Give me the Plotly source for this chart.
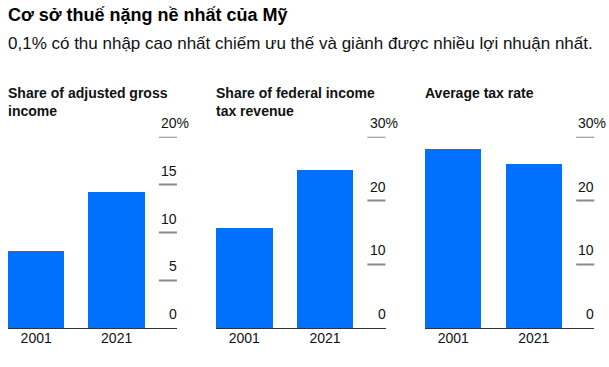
import plotly.graph_objects as go

years = ["2001", "2021"]
agi_share = [8.1, 14.3]
tax_share = [15.7, 24.8]
avg_rate = [28.2, 25.8]

panel_titles = ["Share of adjusted gross<br>income", "Share of federal income<br>tax revenue", "Average tax rate"]
panel_values = [agi_share, tax_share, avg_rate]
panel_ticks = [[0, 5, 10, 15, 20], [0, 10, 20, 30], [0, 10, 20, 30]]
panel_max = [20, 30, 30]

W, H = 609, 367
BLUE = "#0070ff"
FONT = "Liberation Sans, Arial, sans-serif"

x_px = [(8, 177), (216, 385.5), (425, 594.3)]
y_bottom = (H - 328.3) / H
y_top = (H - 136.7) / H

fig = go.Figure()
annotations = []
shapes = []
for i in range(3):
    ax = "" if i == 0 else str(i + 1)
    fig.add_trace(go.Bar(
        x=years, y=panel_values[i], marker=dict(color=BLUE, line=dict(width=0)),
        width=0.7, xaxis="x" + ax, yaxis="y" + ax, showlegend=False, hoverinfo="x+y",
    ))
    dom = [x_px[i][0] / W, x_px[i][1] / W]
    fig.update_layout(**{
        "xaxis" + ax: dict(domain=dom, range=[-0.35, 1.75], type="category",
                           showline=True, linecolor="#333", linewidth=1,
                           showgrid=False, zeroline=False, ticks="", ticklen=0,
                           ticklabelstandoff=-3,
                           tickfont=dict(family=FONT, size=14, color="#111"),
                           anchor="y" + ax, fixedrange=True),
        "yaxis" + ax: dict(domain=[y_bottom, y_top], range=[0, panel_max[i]],
                           showgrid=False, zeroline=False, showticklabels=False,
                           showline=False, anchor="x" + ax, fixedrange=True),
    })
    xref_d = "x" + ax + " domain"
    for t in panel_ticks[i]:
        if t > 0:
            shapes.append(dict(type="line", xref=xref_d, yref="y" + ax,
                               x0=0.893, x1=1.0, y0=t, y1=t,
                               line=dict(color="#8a8a8a", width=2)))
        is_top = t == panel_max[i]
        annotations.append(dict(xref=xref_d, yref="y" + ax, x=1.0, y=t,
                                text=str(t) + ("%" if is_top else ""), showarrow=False,
                                xanchor="right", yanchor="bottom", yshift=4,
                                xshift=(12 if is_top else 0) + 2,
                                font=dict(family=FONT, size=14, color="#111")))
    annotations.append(dict(xref="paper", yref="paper", x=x_px[i][0] / W - 2 / W, y=(H - 83) / H,
                            text="<b>" + panel_titles[i] + "</b>", showarrow=False,
                            xanchor="left", yanchor="top", align="left",
                            font=dict(family=FONT, size=14, color="#111")))

annotations.append(dict(xref="paper", yref="paper", x=6 / W, y=(H - 3) / H,
                        text="<b>Cơ sở thuế nặng nề nhất của Mỹ</b>", showarrow=False,
                        xanchor="left", yanchor="top",
                        font=dict(family=FONT, size=18, color="#000")))
annotations.append(dict(xref="paper", yref="paper", x=6 / W, y=(H - 32) / H,
                        text="0,1% có thu nhập cao nhất chiếm ưu thế và giành được nhiều lợi nhuận nhất.",
                        showarrow=False, xanchor="left", yanchor="top",
                        font=dict(family=FONT, size=17, color="#111")))

fig.update_layout(width=W, height=H, margin=dict(l=0, r=0, t=0, b=0),
                  paper_bgcolor="white", plot_bgcolor="white",
                  annotations=annotations, shapes=shapes, bargap=0)
fig.write_html("out.html", config={"displayModeBar": False},
               post_script="document.body.style.margin='0';document.body.style.overflow='hidden';")
